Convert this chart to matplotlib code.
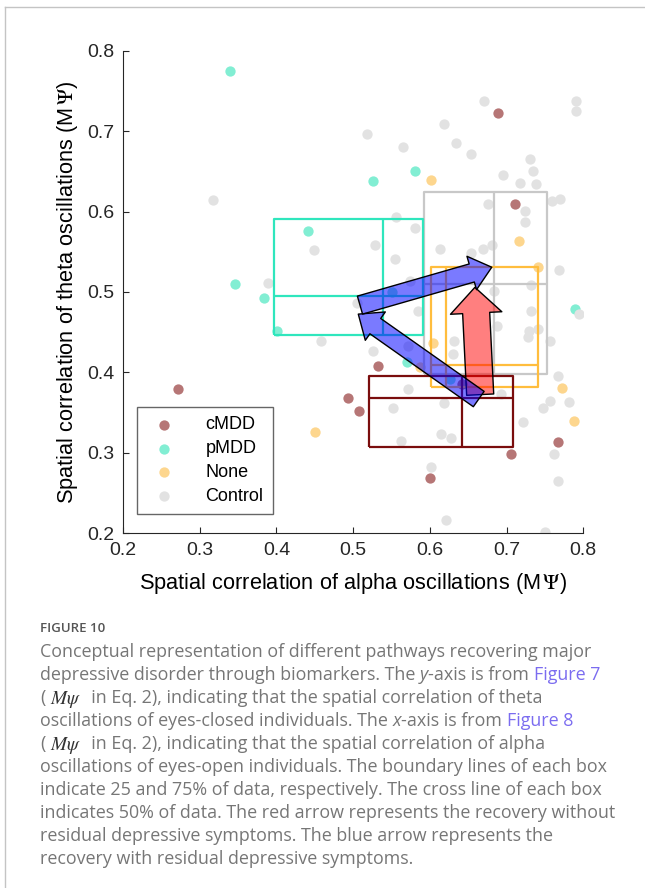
import matplotlib
matplotlib.use("Agg")
import matplotlib.pyplot as plt
from matplotlib.patches import FancyArrowPatch
from matplotlib.lines import Line2D

# spatial correlation (alpha, theta) of each individual
cmdd_x = [0.272, 0.493, 0.508, 0.532, 0.689, 0.711, 0.706, 0.600, 0.767, 0.642]
cmdd_y = [0.379, 0.368, 0.352, 0.408, 0.723, 0.609, 0.298, 0.269, 0.314, 0.385]
pmdd_x = [0.340, 0.441, 0.346, 0.384, 0.401, 0.526, 0.581, 0.570, 0.789, 0.550, 0.626]
pmdd_y = [0.775, 0.576, 0.510, 0.492, 0.452, 0.638, 0.651, 0.413, 0.479, 0.500, 0.392]
none_x = [0.450, 0.601, 0.716, 0.741, 0.604, 0.587, 0.772, 0.788]
none_y = [0.326, 0.639, 0.563, 0.531, 0.436, 0.407, 0.381, 0.339]
ctrl_x = [0.518, 0.317, 0.449, 0.389, 0.670, 0.790, 0.791, 0.618, 0.634, 0.565,
          0.653, 0.731, 0.734, 0.695, 0.718, 0.738, 0.759, 0.770, 0.676, 0.724,
          0.724, 0.556, 0.581, 0.529, 0.613, 0.653, 0.669, 0.681, 0.554, 0.768,
          0.732, 0.684, 0.584, 0.732, 0.794, 0.687, 0.728, 0.729, 0.741, 0.757,
          0.632, 0.630, 0.526, 0.572, 0.767, 0.571, 0.693, 0.757, 0.782, 0.748,
          0.618, 0.552, 0.722, 0.563, 0.615, 0.627, 0.762, 0.602, 0.767, 0.621,
          0.750, 0.505, 0.458, 0.574]
ctrl_y = [0.696, 0.614, 0.552, 0.511, 0.738, 0.738, 0.725, 0.709, 0.685, 0.680,
          0.672, 0.665, 0.651, 0.645, 0.635, 0.634, 0.613, 0.616, 0.609, 0.601,
          0.587, 0.593, 0.579, 0.558, 0.554, 0.549, 0.554, 0.559, 0.541, 0.527,
          0.509, 0.501, 0.476, 0.476, 0.473, 0.458, 0.444, 0.451, 0.454, 0.439,
          0.439, 0.423, 0.427, 0.433, 0.395, 0.379, 0.373, 0.365, 0.363, 0.356,
          0.362, 0.356, 0.338, 0.315, 0.323, 0.318, 0.299, 0.282, 0.265, 0.217,
          0.201, 0.486, 0.439, 0.514]

# 25/50/75 percentiles per group: x (alpha), y (theta)
box_cmdd = ([0.521, 0.642, 0.708], [0.307, 0.368, 0.396])
box_pmdd = ([0.397, 0.539, 0.591], [0.447, 0.495, 0.591])
box_none = ([0.601, 0.621, 0.741], [0.382, 0.409, 0.531])
box_ctrl = ([0.593, 0.684, 0.753], [0.398, 0.510, 0.624])

# recovery pathways (start, end)
red_arrow = ((0.6656, 0.3724), (0.6587, 0.5058))
blue_arrows = [((0.6637, 0.3669), (0.5067, 0.4725)),
               ((0.5089, 0.4837), (0.6807, 0.5308))]

W, H = 645, 888
plt.rcParams["font.family"] = ["Liberation Sans", "DejaVu Sans"]
plt.rcParams["mathtext.fontset"] = "stix"
axcol = "#262626"

fig = plt.figure(figsize=(W / 100, H / 100), dpi=100)
ax = fig.add_axes([123 / W, 1 - 533.3 / H, 460.3 / W, 482.6 / H])

ms = 55
ax.scatter(cmdd_x, cmdd_y, s=ms, c="#b67676", lw=0, label="cMDD", zorder=2)
ax.scatter(pmdd_x, pmdd_y, s=ms, c="#82eed3", lw=0, label="pMDD", zorder=2)
ax.scatter(none_x, none_y, s=ms, c="#fdd68e", lw=0, label="None", zorder=2)
ax.scatter(ctrl_x, ctrl_y, s=ms, c="#e2e2e2", lw=0, label="Control", zorder=2)


def draw_box(stats, color):
    (x1, xm, x2), (y1, ym, y2) = stats
    kw = dict(color=color, lw=1.6, zorder=3, solid_capstyle="butt")
    ax.plot([x1, x2, x2, x1, x1], [y1, y1, y2, y2, y1], **kw)
    ax.plot([xm, xm], [y1, y2], **kw)
    ax.plot([x1, x2], [ym, ym], **kw)


draw_box(box_ctrl, "#c8c8c8")
draw_box(box_none, "#ffbd3d")
draw_box(box_pmdd, "#2fe6bd")
draw_box(box_cmdd, "#7a0d0d")

(p0, p1) = red_arrow
ax.add_patch(FancyArrowPatch(p0, p1, arrowstyle="simple,head_length=18.5,head_width=37,tail_width=19.5",
                             mutation_scale=1, shrinkA=0, shrinkB=0, fc=(1, 0, 0, 0.5),
                             ec="black", lw=1.0, zorder=4))
for p0, p1 in blue_arrows:
    ax.add_patch(FancyArrowPatch(p0, p1, arrowstyle="simple,head_length=15,head_width=25,tail_width=13.5",
                                 mutation_scale=1, shrinkA=0, shrinkB=0, fc=(0, 0, 1, 0.52),
                                 ec="black", lw=1.0, zorder=4))

ax.set_xlim(0.2, 0.8)
ax.set_ylim(0.2, 0.8)
ax.set_xticks([0.2, 0.3, 0.4, 0.5, 0.6, 0.7, 0.8])
ax.set_yticks([0.2, 0.3, 0.4, 0.5, 0.6, 0.7, 0.8])
ax.spines[["top", "right"]].set_visible(False)
for s in ["left", "bottom"]:
    ax.spines[s].set_color(axcol)
    ax.spines[s].set_linewidth(0.8)
ax.tick_params(direction="in", length=4.5, width=0.8, colors=axcol, labelsize=14, pad=6)
ax.set_xlabel(r"Spatial correlation of alpha oscillations (M$\,\Psi$)", fontsize=15.7, color="black", labelpad=9)
ax.set_ylabel(r"Spatial correlation of theta oscillations (M$\,\Psi$)", fontsize=15.7, color="black", labelpad=5)

leg = ax.legend(loc="lower left", bbox_to_anchor=(0.0304, 0.040), borderaxespad=0, fontsize=13,
                frameon=True, fancybox=False, edgecolor="#404040", scatterpoints=1,
                handletextpad=1.3, labelspacing=0.38, borderpad=0.5, handlelength=2.0)
leg.get_frame().set_linewidth(1.0)

# outer frame of the figure panel
fig.add_artist(Line2D([5 / W, 5 / W], [0, 1 - 7 / H], transform=fig.transFigure, color="#c4c4c4", lw=1))
fig.add_artist(Line2D([5 / W, 1], [1 - 7 / H, 1 - 7 / H], transform=fig.transFigure, color="#c4c4c4", lw=1))

# caption
fig.text(40 / W, 1 - 628 / H, "FIGURE 10", fontsize=9.5, color="#555555", family="Open Sans",
         weight="semibold", va="center")

gray = "#767676"
link = "#7b6cf0"
base = dict(fontsize=12.9, family="Open Sans", color=gray, va="center_baseline")
renderer = fig.canvas.get_renderer()
probe1 = fig.text(0, 0, "x x", **base)
probe2 = fig.text(0, 0, "xx", **base)
space_w = probe1.get_window_extent(renderer).width - probe2.get_window_extent(renderer).width
probe1.remove()
probe2.remove()

caption = [
    [("Conceptual representation of different pathways recovering major", {})],
    [("depressive disorder through biomarkers. The ", {}), ("y", {"style": "italic"}),
     ("-axis is from ", {}), ("Figure 7", {"color": link})],
    [("( ", {}), (r"$M\psi$", {"color": "#333333", "fontsize": 14}),
     ("  in Eq. 2), indicating that the spatial correlation of theta", {})],
    [("oscillations of eyes-closed individuals. The ", {}), ("x", {"style": "italic"}),
     ("-axis is from ", {}), ("Figure 8", {"color": link})],
    [("( ", {}), (r"$M\psi$", {"color": "#333333", "fontsize": 14}),
     ("  in Eq. 2), indicating that the spatial correlation of alpha", {})],
    [("oscillations of eyes-open individuals. The boundary lines of each box", {})],
    [("indicate 25 and 75% of data, respectively. The cross line of each box", {})],
    [("indicates 50% of data. The red arrow represents the recovery without", {})],
    [("residual depressive symptoms. The blue arrow represents the", {})],
    [("recovery with residual depressive symptoms.", {})],
]

y = 650
for line in caption:
    x = 40
    for txt, kw in line:
        style = dict(base)
        style.update(kw)
        t = fig.text(x / W, 1 - y / H, txt.rstrip(" "), **style)
        x += t.get_window_extent(renderer).width
        x += space_w * (len(txt) - len(txt.rstrip(" ")))
    y += 23

fig.savefig("out.png", dpi=100)
